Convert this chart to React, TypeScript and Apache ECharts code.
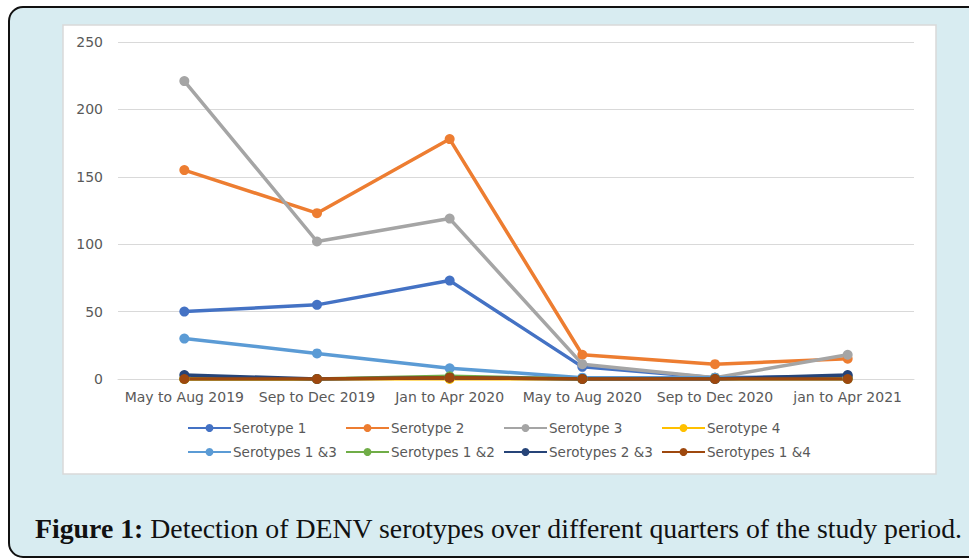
import React, { useEffect, useRef } from "react";
import * as echarts from "echarts";

const categories = ["May to Aug 2019", "Sep to Dec 2019", "Jan to Apr 2020", "May to Aug 2020", "Sep to Dec 2020", "jan to Apr 2021"];
const seriesNames = ["Serotype 1", "Serotype 2", "Serotype 3", "Serotype 4", "Serotypes 1 &3", "Serotypes 1 &2", "Serotypes 2 &3", "Serotypes 1 &4"];
const serotype1 = [50, 55, 73, 9, 1, 2];
const serotype2 = [155, 123, 178, 18, 11, 15];
const serotype3 = [221, 102, 119, 11, 1, 18];
const serotype4 = [0, 0, 0, 0, 1, 1];
const serotypes13 = [30, 19, 8, 1, 1, 1];
const serotypes12 = [0, 0, 2, 0, 0, 0];
const serotypes23 = [3, 0, 1, 0, 0, 3];
const serotypes14 = [0, 0, 1, 0, 0, 0];
const yTicks = [0, 50, 100, 150, 200, 250];
const colors = ["#4472C4", "#ED7D31", "#A5A5A5", "#FFC000", "#5B9BD5", "#70AD47", "#264478", "#9E480E"];
const caption = "Detection of DENV serotypes over different quarters of the study period.";

export default function App() {
  const ref = useRef<HTMLDivElement>(null);
  useEffect(() => {
    if (!ref.current) return;
    const chart = echarts.init(ref.current, null, { renderer: "svg" });
    const values = [serotype1, serotype2, serotype3, serotype4, serotypes13, serotypes12, serotypes23, serotypes14];
    const legendCols = [187, 345, 503, 661];
    const legendRows = [421, 445];
    const labelFont = "DejaVu Sans";
    chart.setOption({
      animation: false,
      color: colors,
      graphic: [
        {
          type: "rect",
          shape: { x: 9, y: 7, width: 990, height: 550, r: 14 },
          style: { fill: "#d8ecf1", stroke: "#111", lineWidth: 2 },
          z: -10,
        },
        {
          type: "rect",
          shape: { x: 63, y: 25, width: 873, height: 449 },
          style: { fill: "#ffffff", stroke: "#d9d9d9", lineWidth: 1.5 },
          z: -9,
        },
        {
          type: "text",
          x: 35,
          y: 528,
          style: {
            text: "{b|Figure 1:} " + caption,
            rich: {
              b: { fontWeight: "bold", fontFamily: "Liberation Serif", fontSize: 27.8, fill: "#111" },
            },
            fontFamily: "Liberation Serif",
            fontSize: 27.8,
            fill: "#111",
            verticalAlign: "middle",
          },
        },
      ],
      legend: seriesNames.map((n, i) => ({
        data: [n],
        left: legendCols[i % 4],
        top: legendRows[Math.floor(i / 4)],
        itemWidth: 43,
        itemHeight: 10,
        itemGap: 0,
        padding: 0,
        textStyle: { color: "#595959", fontFamily: labelFont, fontSize: 13.5, padding: [0, 0, 0, -3] },
      })),
      grid: { left: 118, right: 55, top: 42, bottom: 180, containLabel: false },
      xAxis: {
        type: "category",
        data: categories,
        boundaryGap: true,
        axisLine: { show: true, lineStyle: { color: "#d9d9d9", width: 1 } },
        axisTick: { show: false },
        axisLabel: { color: "#595959", fontFamily: labelFont, fontSize: 14, margin: 11, interval: 0 },
      },
      yAxis: {
        type: "value",
        min: yTicks[0],
        max: yTicks[yTicks.length - 1],
        interval: 50,
        axisLine: { show: false },
        axisTick: { show: false },
        splitLine: { lineStyle: { color: "#d9d9d9", width: 1 } },
        axisLabel: { color: "#595959", fontFamily: labelFont, fontSize: 14, margin: 15 },
      },
      series: seriesNames.map((n, i) => ({
        name: n,
        type: "line",
        data: values[i],
        symbol: "circle",
        symbolSize: 10,
        lineStyle: { width: 3.5, color: colors[i] },
        itemStyle: { color: colors[i] },
      })),
    });
    return () => chart.dispose();
  }, []);
  return (
    <div style={{ position: "absolute", left: 0, top: 0, width: 969, height: 559, overflow: "hidden" }}>
      <div ref={ref} style={{ width: 969, height: 559 }} />
    </div>
  );
}
